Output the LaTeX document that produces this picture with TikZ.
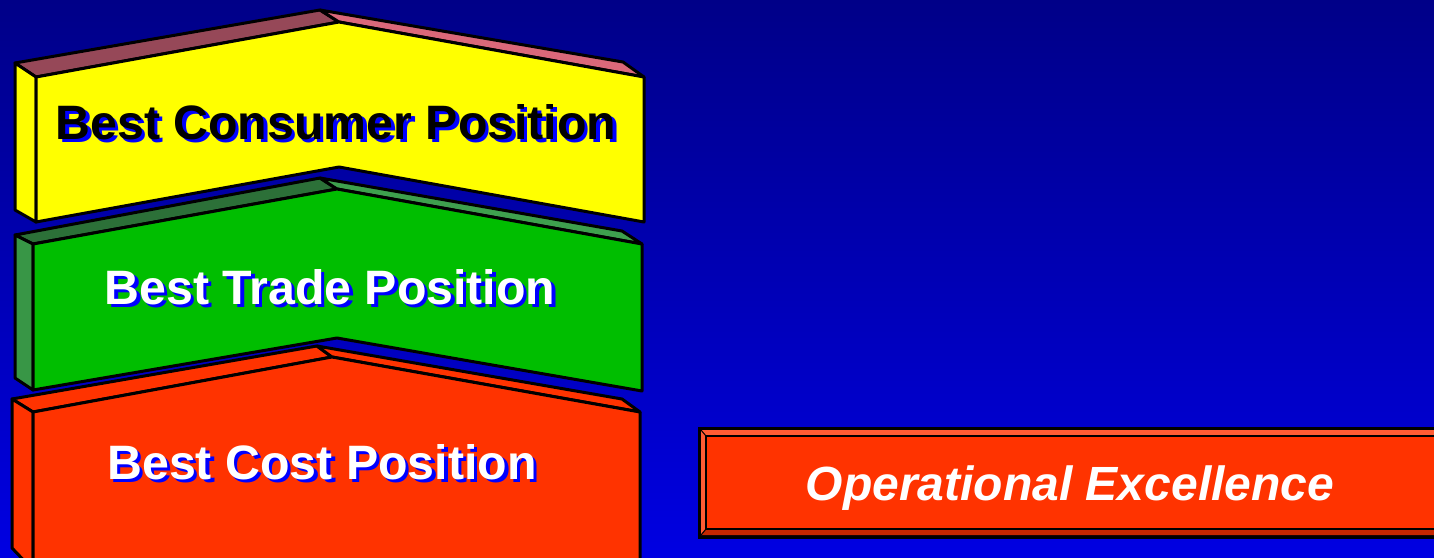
\documentclass[tikz,border=0pt]{standalone}
\usepackage{fontspec}
\setmainfont{Liberation Sans}
\definecolor{bgtop}{RGB}{0,0,136}
\definecolor{bgbot}{RGB}{0,0,226}
\definecolor{yface}{RGB}{255,255,0}
\definecolor{ytopl}{RGB}{150,72,88}
\definecolor{ytopr}{RGB}{218,104,122}
\definecolor{gface}{RGB}{0,190,0}
\definecolor{gtopl}{RGB}{44,112,56}
\definecolor{gtopr}{RGB}{62,160,78}
\definecolor{gside}{RGB}{56,150,70}
\definecolor{rface}{RGB}{255,51,0}
\definecolor{rlight}{RGB}{255,92,52}
\definecolor{rdark}{RGB}{196,38,0}
\definecolor{shadowblue}{RGB}{0,0,255}
\begin{document}
\begin{tikzpicture}[x=1pt,y=-1pt,line join=round,
  edge/.style={draw=black,line width=3pt},
  label/.style={font=\fontsize{48.3}{50}\selectfont\bfseries,inner sep=0pt,anchor=center},
  shadowlabel/.style={label,text=shadowblue}]
\clip (0,0) rectangle (1434,557);
\shade[top color=bgtop,bottom color=bgbot] (0,0) rectangle (1434,557);

% bottom block: cost
\filldraw[edge,fill=rface] (12,399) -- (317,346) -- (332,357) -- (33,412) -- cycle;
\filldraw[edge,fill=rface] (317,346) -- (622,399) -- (640,412) -- (332,357) -- cycle;
\filldraw[edge,fill=rface] (12,399) -- (33,412) -- (33,570) -- (12,548) -- cycle;
\filldraw[edge,fill=rface] (33,412) -- (332,357) -- (640,412) -- (640,570) -- (33,570) -- cycle;

% middle block: trade
\filldraw[edge,fill=gtopl] (15,235) -- (320,178) -- (337,189) -- (33,244) -- cycle;
\filldraw[edge,fill=gtopr] (320,178) -- (622,231) -- (642,244) -- (337,189) -- cycle;
\filldraw[edge,fill=gside] (15,235) -- (33,244) -- (33,390) -- (15,378) -- cycle;
\filldraw[edge,fill=gface] (33,244) -- (337,189) -- (642,244) -- (642,391) -- (337,338) -- (33,390) -- cycle;

% top block: consumer
\filldraw[edge,fill=ytopl] (15,63) -- (320,10) -- (339,22) -- (36,77) -- cycle;
\filldraw[edge,fill=ytopr] (320,10) -- (623,62) -- (644,77) -- (339,22) -- cycle;
\filldraw[edge,fill=yface] (15,63) -- (36,77) -- (36,222) -- (15,210) -- cycle;
\filldraw[edge,fill=yface] (36,77) -- (339,22) -- (644,77) -- (644,222) -- (339,167) -- (36,222) -- cycle;

% block labels with drop shadows
\node[shadowlabel] (consumer-sh) at (339.5,125.5) {Best Consumer Position};
\node[label,text=black] (consumer) at (336,122) {Best Consumer Position};
\node[shadowlabel] (trade-sh) at (333.5,290.5) {Best Trade Position};
\node[label,text=white] (trade) at (330,287) {Best Trade Position};
\node[shadowlabel] (cost-sh) at (325.5,465.5) {Best Cost Position};
\node[label,text=white] (cost) at (322,462) {Best Cost Position};

% bevelled button
\fill[black] (698,427) rectangle (1440,539);
\fill[rlight] (701,430) -- (1440,430) -- (1440,436) -- (706,436) -- (706,529) -- (701,535) -- cycle;
\fill[rdark] (701,535) -- (706,529) -- (1440,529) -- (1440,535) -- cycle;
\filldraw[fill=rface,draw=black,line width=1.8pt] (706,436) rectangle (1440,529);
\draw[black,line width=1pt] (701,430) -- (706,436) (701,535) -- (706,529);
\node[label,font=\fontsize{48}{50}\selectfont\bfseries\itshape,text=white] (opex) at (1070,488) {Operational Excellence};
\end{tikzpicture}
\end{document}
